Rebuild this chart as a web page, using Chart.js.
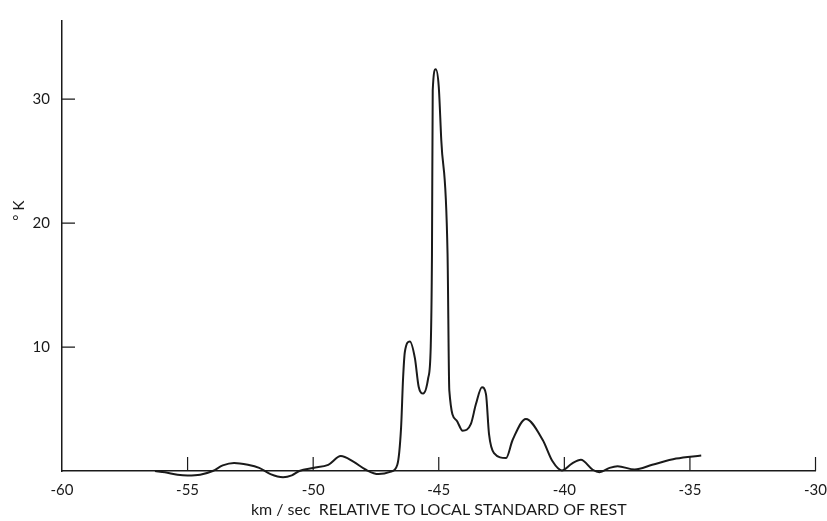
<!DOCTYPE html>
<html>
<head>
<meta charset="utf-8">
<script src="https://cdn.jsdelivr.net/npm/chart.js@4/dist/chart.umd.min.js"></script>
<style>
  html, body { margin: 0; padding: 0; background: #fff; overflow: hidden; }
  #wrap { width: 837px; height: 521px; }
</style>
</head>
<body>
<div id="wrap"><canvas id="spectrum"></canvas></div>
<script>
// velocity (km/sec) and brightness temperature (°K)
const velocity = [
  -56.3, -55.9, -55.4, -55.0, -54.5, -54.0, -53.6, -53.15, -52.6, -52.15,
  -51.7, -51.2, -50.85, -50.55, -50.0, -49.4, -48.9, -48.4, -47.9, -47.4,
  -46.9, -46.65, -46.5, -46.42, -46.35, -46.15, -45.95, -45.8, -45.62, -45.42,
  -45.32, -45.27, -45.24, -45.12, -45.0, -44.9, -44.65, -44.58, -44.3, -44.05,
  -43.72, -43.52, -43.28, -43.12, -43.0, -42.8, -42.32, -42.06, -41.53, -40.86,
  -40.47, -40.1, -39.7, -39.34, -38.87, -38.6, -38.2, -37.88, -37.2, -36.5,
  -35.55, -34.55
];
const temperature = [
  0, -0.1, -0.3, -0.36, -0.3, 0, 0.45, 0.65, 0.5, 0.25,
  -0.25, -0.5, -0.35, 0, 0.25, 0.5, 1.2, 0.75, 0.1, -0.25,
  -0.05, 0.5, 3.5, 7.5, 9.6, 10.45, 9.1, 6.8, 6.25, 7.5,
  10, 17.5, 30.7, 32.4, 31, 26.7, 17.5, 6.5, 4.1, 3.25,
  3.8, 5.4, 6.76, 6.2, 3.0, 1.45, 1.05, 2.5, 4.2, 2.5,
  0.78, 0.05, 0.6, 0.9, 0.1, -0.1, 0.25, 0.38, 0.12, 0.5,
  1.0, 1.25
];
const xTicks = [-60, -55, -50, -45, -40, -35, -30];
const yTicks = [10, 20, 30];

const ink = '#1a1a1a';
const fontFamily = 'Lato, "DejaVu Sans", sans-serif';

// tick marks point into the plot, like on the original
const innerTicks = {
  id: 'innerTicks',
  afterDraw(chart) {
    const ctx = chart.ctx;
    const x = chart.scales.x, y = chart.scales.y;
    ctx.save();
    ctx.strokeStyle = ink;
    ctx.lineWidth = 1.2;
    ctx.beginPath();
    x.ticks.forEach(t => {
      const px = x.getPixelForValue(t.value);
      if (px <= x.left + 1) return;
      ctx.moveTo(px, y.bottom);
      ctx.lineTo(px, y.bottom - 14);
    });
    y.ticks.forEach(t => {
      const py = y.getPixelForValue(t.value);
      ctx.moveTo(x.left, py);
      ctx.lineTo(x.left + 13, py);
    });
    ctx.stroke();

    // y axis title
    ctx.translate(19, y.getPixelForValue(21));
    ctx.rotate(-Math.PI / 2);
    ctx.fillStyle = ink;
    ctx.font = '15px ' + fontFamily;
    ctx.textAlign = 'center';
    ctx.textBaseline = 'middle';
    ctx.fillText('° K', 0, 0);
    ctx.restore();
  }
};

new Chart(document.getElementById('spectrum'), {
  type: 'line',
  data: {
    datasets: [{
      data: velocity.map((v, i) => ({ x: v, y: temperature[i] })),
      borderColor: ink,
      borderWidth: 2,
      pointRadius: 0,
      fill: false,
      clip: false,
      cubicInterpolationMode: 'monotone'
    }]
  },
  options: {
    responsive: true,
    maintainAspectRatio: false,
    animation: false,
    layout: { padding: { top: 13, left: 0, right: 0, bottom: 0 } },
    plugins: { legend: { display: false }, tooltip: { enabled: false } },
    scales: {
      x: {
        type: 'linear',
        min: -60,
        max: -30,
        afterBuildTicks: s => { s.ticks = xTicks.map(v => ({ value: v })); },
        afterFit: s => { s.height = 50; },
        grid: { display: true, drawOnChartArea: false, drawTicks: false },
        border: { display: true, color: ink, width: 1.5 },
        ticks: {
          color: ink,
          padding: 10,
          maxRotation: 0,
          font: { family: fontFamily, size: 15 },
          callback: v => '-' + Math.abs(v)
        },
        title: {
          display: true,
          text: 'km / sec  RELATIVE TO LOCAL STANDARD OF REST',
          color: ink,
          font: { family: fontFamily, size: 16 },
          padding: { top: 0, bottom: 2 }
        }
      },
      y: {
        min: 0,
        max: 36.3,
        afterBuildTicks: s => { s.ticks = yTicks.map(v => ({ value: v })); },
        afterFit: s => { s.width = 62; },
        grid: { display: true, drawOnChartArea: false, drawTicks: false },
        border: { display: true, color: ink, width: 1.5 },
        ticks: {
          color: ink,
          padding: 12,
          font: { family: fontFamily, size: 15 }
        }
      }
    }
  },
  plugins: [innerTicks]
});
</script>
</body>
</html>
